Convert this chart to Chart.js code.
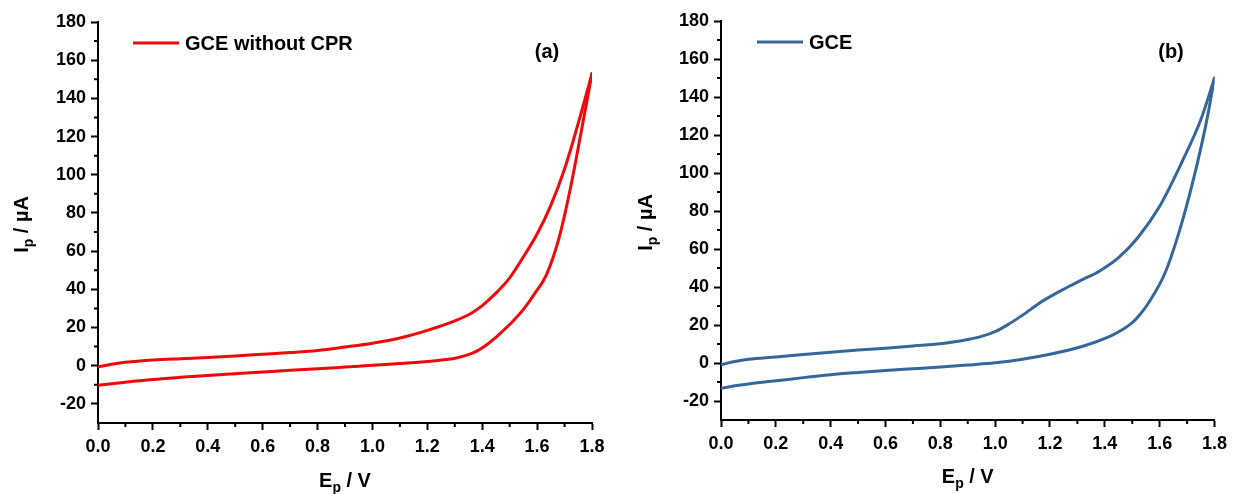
<!DOCTYPE html>
<html>
<head>
<meta charset="utf-8">
<script src="https://cdn.jsdelivr.net/npm/chart.js@4.4.1/dist/chart.umd.min.js"></script>
<style>
    html, body { margin: 0; padding: 0; background: #fff; }
    #wrap { position: relative; width: 1233px; height: 494px; }
    .panel { position: absolute; top: 0; height: 494px; }
    #panelA { left: 0; width: 616px; }
    #panelB { left: 616px; width: 617px; }
</style>
</head>
<body>
<div id="wrap">
    <div class="panel" id="panelA"><canvas id="chartA"></canvas></div>
    <div class="panel" id="panelB"><canvas id="chartB"></canvas></div>
</div>
<script>
// Panel (a): GCE without CPR, forward (anodic) and reverse sweeps
const potentialA_fwd = [0, 0.05, 0.1, 0.2, 0.3, 0.4, 0.5, 0.6, 0.7, 0.8, 0.9, 1.0, 1.1, 1.2, 1.3, 1.36, 1.4, 1.45, 1.5, 1.55, 1.6, 1.65, 1.7, 1.75, 1.8];
const currentA_fwd   = [-0.7, 0.8, 1.8, 3.0, 3.7, 4.3, 5.1, 6.0, 6.9, 8.0, 9.8, 11.8, 14.5, 18.5, 23.5, 27.5, 31.5, 38, 46, 57, 69, 84, 103, 127, 153];
const potentialA_rev = [0, 0.05, 0.1, 0.2, 0.3, 0.4, 0.5, 0.6, 0.7, 0.8, 0.9, 1.0, 1.1, 1.2, 1.27, 1.31, 1.35, 1.38, 1.41, 1.44, 1.47, 1.51, 1.55, 1.59, 1.635, 1.68, 1.72, 1.76, 1.8];
const currentA_rev   = [-10.3, -9.4, -8.6, -7.2, -6.1, -5.1, -4.2, -3.3, -2.4, -1.6, -0.7, 0.2, 1.1, 2.2, 3.2, 4.2, 5.8, 7.6, 10.3, 13.7, 17.5, 23, 29.5, 37.5, 48, 67, 92, 122, 153];

// Panel (b): GCE
const potentialB_fwd = [0, 0.05, 0.1, 0.2, 0.3, 0.4, 0.5, 0.6, 0.7, 0.8, 0.9, 0.95, 1.0, 1.05, 1.1, 1.17, 1.26, 1.32, 1.38, 1.45, 1.52, 1.6, 1.68, 1.75, 1.8];
const currentB_fwd   = [-0.9, 0.8, 2.0, 3.2, 4.5, 5.7, 6.8, 7.8, 9.0, 10.1, 12.4, 14, 16.5, 20.5, 25.2, 32.3, 39.6, 44, 48.3, 55.4, 65.9, 82.5, 105.4, 128, 150];
const potentialB_rev = [0, 0.05, 0.1, 0.2, 0.3, 0.4, 0.5, 0.6, 0.7, 0.8, 0.9, 1.0, 1.1, 1.2, 1.32, 1.42, 1.46, 1.5, 1.53, 1.56, 1.62, 1.67, 1.72, 1.77, 1.8];
const currentB_rev   = [-13.3, -12, -11, -9.4, -7.7, -6.2, -5.0, -3.9, -3.0, -2.1, -1.1, 0.1, 2.0, 4.6, 8.8, 14.1, 17.2, 21.2, 25.8, 31.7, 47.5, 68.5, 94.8, 126.4, 150];

// Axis ticks
const xTicks = [0, 0.2, 0.4, 0.6, 0.8, 1.0, 1.2, 1.4, 1.6, 1.8];
const yTicks = [-20, 0, 20, 40, 60, 80, 100, 120, 140, 160, 180];

const FONT = '"Liberation Sans", Arial, sans-serif';

function toPoints(xs, ys) {
    return xs.map((x, i) => ({ x: x, y: ys[i] }));
}

// draws "Main" + subscript + rest, centred on (cx, baseline y)
function drawSubText(ctx, main, sub, rest, cx, y) {
    const big = 'bold 20px ' + FONT;
    const small = 'bold 14px ' + FONT;
    ctx.font = big;
    const w1 = ctx.measureText(main).width;
    const w3 = ctx.measureText(rest).width;
    ctx.font = small;
    const w2 = ctx.measureText(sub).width;
    let x = cx - (w1 + w2 + w3) / 2;
    ctx.textAlign = 'left';
    ctx.textBaseline = 'alphabetic';
    ctx.font = big;
    ctx.fillText(main, x, y);
    x += w1;
    ctx.font = small;
    ctx.fillText(sub, x, y + 5);
    x += w2;
    ctx.font = big;
    ctx.fillText(rest, x, y);
}

// legend line, panel tag, axis titles and minor ticks
const panelDecor = {
    id: 'panelDecor',
    afterDraw(chart, args, opts) {
        const ctx = chart.ctx;
        const area = chart.chartArea;
        const xs = chart.scales.x;
        const ys = chart.scales.y;
        ctx.save();

        // minor ticks
        ctx.strokeStyle = '#000';
        ctx.lineWidth = 2;
        ctx.beginPath();
        for (let i = 0; i < xTicks.length - 1; i++) {
            const px = xs.getPixelForValue((xTicks[i] + xTicks[i + 1]) / 2);
            ctx.moveTo(px, area.bottom);
            ctx.lineTo(px, area.bottom + 4);
        }
        for (let i = 0; i < yTicks.length - 1; i++) {
            const py = ys.getPixelForValue((yTicks[i] + yTicks[i + 1]) / 2);
            ctx.moveTo(area.left, py);
            ctx.lineTo(area.left - 4, py);
        }
        ctx.stroke();

        // legend inside plot
        const ds = chart.data.datasets[0];
        const lx = area.left + opts.legendX;
        const ly = area.top + opts.legendY;
        ctx.strokeStyle = ds.borderColor;
        ctx.lineWidth = 3;
        ctx.beginPath();
        ctx.moveTo(lx, ly);
        ctx.lineTo(lx + 46, ly);
        ctx.stroke();
        ctx.fillStyle = '#000';
        ctx.font = 'bold 20px ' + FONT;
        ctx.textAlign = 'left';
        ctx.textBaseline = 'middle';
        ctx.fillText(ds.label, lx + 52, ly + 1);

        // panel tag
        ctx.font = 'bold 20px ' + FONT;
        ctx.textAlign = 'center';
        ctx.fillText(opts.tag, area.left + opts.tagX, area.top + opts.tagY);

        // x title
        drawSubText(ctx, 'E', 'p', ' / V', (area.left + area.right) / 2, opts.xTitleY);

        // y title
        ctx.translate(opts.yTitleX, (area.top + area.bottom) / 2 + 2);
        ctx.rotate(-Math.PI / 2);
        drawSubText(ctx, 'I', 'p', ' / \u00b5A', 0, 0);

        ctx.restore();
    }
};

function makeChart(canvasId, label, color, fwd, rev, dims, decor) {
    const ctx = document.getElementById(canvasId).getContext('2d');
    const lineStyle = {
        label: label,
        borderColor: color,
        backgroundColor: color,
        borderWidth: 3,
        pointRadius: 0,
        showLine: true,
        cubicInterpolationMode: 'monotone',
        borderCapStyle: 'round',
        borderJoinStyle: 'round'
    };
    return new Chart(ctx, {
        type: 'scatter',
        data: {
            datasets: [
                Object.assign({ data: fwd }, lineStyle),
                Object.assign({ data: rev }, lineStyle)
            ]
        },
        options: {
            responsive: true,
            maintainAspectRatio: false,
            animation: false,
            layout: { padding: { top: dims.top, right: dims.right, left: 0, bottom: 0 } },
            plugins: {
                legend: { display: false },
                tooltip: { enabled: false },
                panelDecor: decor
            },
            scales: {
                x: {
                    type: 'linear',
                    min: 0,
                    max: 1.8,
                    afterBuildTicks: s => { s.ticks = xTicks.map(v => ({ value: v })); },
                    afterFit: s => { s.height = dims.xHeight; },
                    border: { color: '#000', width: 2 },
                    grid: { drawOnChartArea: false, drawTicks: true, tickLength: 7, tickWidth: 2, tickColor: '#000' },
                    ticks: {
                        color: '#000',
                        padding: 6,
                        maxRotation: 0,
                        font: { family: FONT, size: 18, weight: 'bold' },
                        callback: v => v.toFixed(1)
                    }
                },
                y: {
                    type: 'linear',
                    min: -30,
                    max: 180,
                    afterBuildTicks: s => { s.ticks = yTicks.map(v => ({ value: v })); },
                    afterFit: s => { s.width = dims.yWidth; },
                    border: { color: '#000', width: 2 },
                    grid: { drawOnChartArea: false, drawTicks: true, tickLength: 7, tickWidth: 2, tickColor: '#000' },
                    ticks: {
                        color: '#000',
                        padding: 5,
                        font: { family: FONT, size: 18, weight: 'bold' }
                    }
                }
            }
        },
        plugins: [panelDecor]
    });
}

makeChart('chartA', 'GCE without CPR', '#ee0a0a',
    toPoints(potentialA_fwd, currentA_fwd), toPoints(potentialA_rev, currentA_rev),
    { top: 22, right: 24, xHeight: 71, yWidth: 98 },
    { legendX: 35, legendY: 21, tag: '(a)', tagX: 449, tagY: 30, xTitleY: 487, yTitleX: 28 });

makeChart('chartB', 'GCE', '#36679b',
    toPoints(potentialB_fwd, currentB_fwd), toPoints(potentialB_rev, currentB_rev),
    { top: 21, right: 17, xHeight: 74, yWidth: 105 },
    { legendX: 36, legendY: 21, tag: '(b)', tagX: 450, tagY: 31, xTitleY: 483, yTitleX: 36 });
</script>
</body>
</html>
